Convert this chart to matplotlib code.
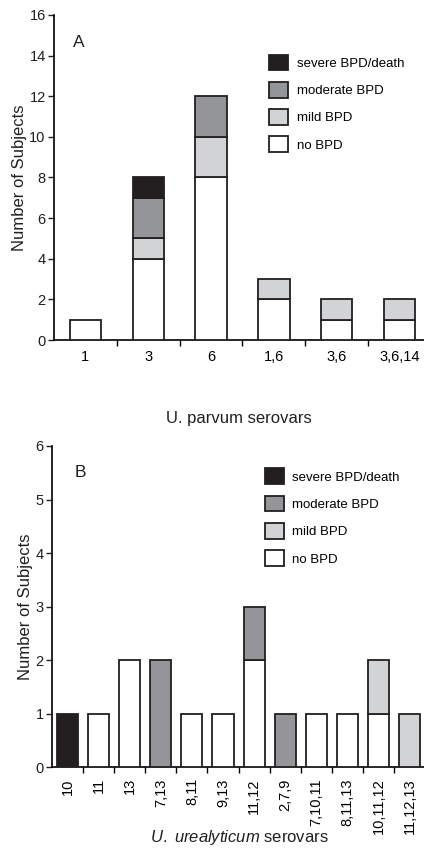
import matplotlib
matplotlib.use("Agg")
import matplotlib.pyplot as plt
import numpy as np
from matplotlib.patches import Patch

plt.rcParams['font.family'] = ['Liberation Sans', 'DejaVu Sans']
plt.rcParams['mathtext.fontset'] = 'custom'
plt.rcParams['mathtext.it'] = 'Liberation Sans:italic'
plt.rcParams['mathtext.rm'] = 'Liberation Sans'

# Panel A: U. parvum
cats_a = ["1", "3", "6", "1,6", "3,6", "3,6,14"]
no_a = [1, 4, 8, 2, 1, 1]
mild_a = [0, 1, 2, 1, 1, 1]
mod_a = [0, 2, 2, 0, 0, 0]
sev_a = [0, 1, 0, 0, 0, 0]

# Panel B: U. urealyticum
cats_b = ["10", "11", "13", "7,13", "8,11", "9,13", "11,12", "2,7,9",
          "7,10,11", "8,11,13", "10,11,12", "11,12,13"]
no_b = [0, 1, 2, 0, 1, 1, 2, 0, 1, 1, 1, 0]
mild_b = [0, 0, 0, 0, 0, 0, 0, 0, 0, 0, 1, 1]
mod_b = [0, 0, 0, 2, 0, 0, 1, 1, 0, 0, 0, 0]
sev_b = [1, 0, 0, 0, 0, 0, 0, 0, 0, 0, 0, 0]

labels = ["no BPD", "mild BPD", "moderate BPD", "severe BPD/death"]
colors = ["#ffffff", "#d1d3d4", "#939598", "#231f20"]
edge = "#231f20"


def draw(ax, cats, series, width, ymax, letter, letter_xy, leg_anchor):
    x = np.arange(len(cats)) + 0.5
    bottom = np.zeros(len(cats))
    for vals, c in zip(series, colors):
        vals = np.array(vals, dtype=float)
        mask = vals > 0
        ax.bar(x[mask], vals[mask], width, bottom=bottom[mask], color=c,
               edgecolor=edge, linewidth=1.3, zorder=3)
        bottom += vals
    ax.set_xlim(0, len(cats))
    ax.set_ylim(0, ymax)
    ax.spines[['top', 'right']].set_visible(False)
    ax.spines[['left', 'bottom']].set_linewidth(1.2)
    ax.set_xticks(np.arange(1, len(cats)), minor=True)
    ax.tick_params(axis='x', which='minor', length=4, width=1, direction='out')
    ax.tick_params(axis='y', length=4, width=1, labelsize=10.5, pad=2,
                   colors='#231f20')
    ax.text(letter_xy[0], letter_xy[1], letter, transform=ax.transAxes,
            fontsize=12.5, color='#231f20')
    ax.set_ylabel("Number of Subjects", fontsize=12, color='#231f20')
    handles = [Patch(facecolor=c, edgecolor=edge, linewidth=1.3, label=l)
               for c, l in zip(colors, labels)][::-1]
    ax.legend(handles=handles, loc='upper left', bbox_to_anchor=leg_anchor,
              frameon=False, fontsize=9.5, handlelength=1.45,
              handleheight=1.45, labelspacing=0.88, handletextpad=0.65,
              borderpad=0, borderaxespad=0)
    return x


fig = plt.figure(figsize=(4.24, 8.5), dpi=100)

ax1 = fig.add_axes([0.1274, 0.6, 0.889, 0.3824])
x1 = draw(ax1, cats_a, [no_a, mild_a, mod_a, sev_a], 0.5, 16, "A",
          (0.05, 0.90), (0.57, 0.878))
ax1.set_yticks(range(0, 17, 2))
ax1.set_xticks(x1, cats_a)
ax1.tick_params(axis='x', which='major', length=0, labelsize=10.5, pad=7)
ax1.yaxis.set_label_coords(-0.072, 0.5)
fig.text(0.564, 0.508, "U. parvum serovars", ha='center', va='center',
         fontsize=12, color='#231f20')

ax2 = fig.add_axes([0.1226, 0.0976, 0.88, 0.3777])
x2 = draw(ax2, cats_b, [no_b, mild_b, mod_b, sev_b], 0.68, 6, "B",
          (0.062, 0.903), (0.57, 0.93))
ax2.set_yticks(range(0, 7))
ax2.set_xticks(x2, cats_b, rotation=90)
ax2.tick_params(axis='x', which='major', length=0, labelsize=10.5, pad=8)
ax2.yaxis.set_label_coords(-0.052, 0.5)
fig.text(0.564, 0.015, r"$\it{U.\ urealyticum}$ serovars", ha='center',
         va='center', fontsize=12, color='#231f20')

fig.savefig("out.png", dpi=100)
